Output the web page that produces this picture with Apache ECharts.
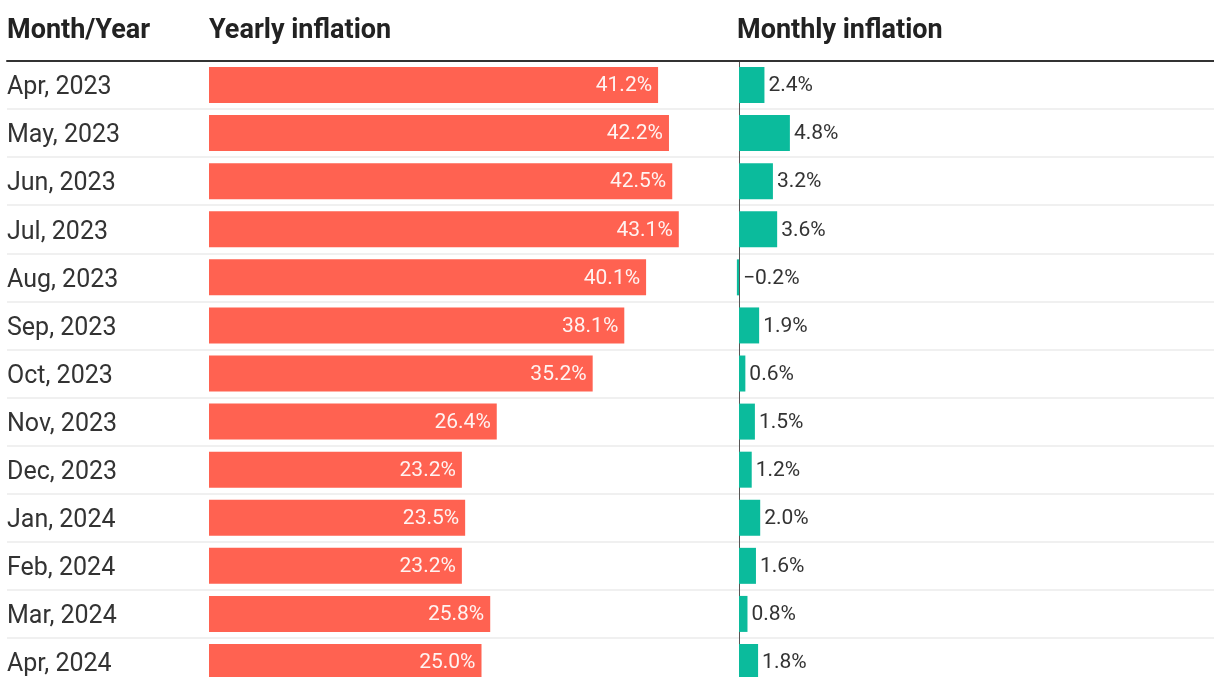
<!DOCTYPE html>
<html>
<head>
<meta charset="utf-8">
<script src="https://cdn.jsdelivr.net/npm/echarts@6/dist/echarts.min.js"></script>
<style>
  html, body { margin: 0; padding: 0; background: #fff; overflow: hidden; }
  /* taller than the window on purpose: the last row is cut off in the original */
  #chart { width: 1214px; height: 700px; }
</style>
</head>
<body>
<div id="chart"></div>
<script>
// data
var months = ['Apr, 2023','May, 2023','Jun, 2023','Jul, 2023','Aug, 2023','Sep, 2023','Oct, 2023',
              'Nov, 2023','Dec, 2023','Jan, 2024','Feb, 2024','Mar, 2024','Apr, 2024'];
var yearly = [41.2, 42.2, 42.5, 43.1, 40.1, 38.1, 35.2, 26.4, 23.2, 23.5, 23.2, 25.8, 25.0];
var monthly = [2.4, 4.8, 3.2, 3.6, -0.2, 1.9, 0.6, 1.5, 1.2, 2.0, 1.6, 0.8, 1.8];
var headers = ['Month/Year', 'Yearly inflation', 'Monthly inflation'];

var font = 'Roboto';
var rowTop = 61, rowH = 48.08;
var gridH = rowH * months.length;

function pct(p) {
    return p.value.toFixed(1).replace('-', '\u2212') + '%';
}

var myChart = echarts.init(document.getElementById('chart'));
var headerStyle = { fontFamily: font, fontSize: 27, fontWeight: 'bold', color: '#222' };
var option = {
    animation: false,
    backgroundColor: '#fff',
    title: [
        { text: headers[0], left: 7, top: 18, padding: 0, textStyle: headerStyle },
        { text: headers[1], left: 209, top: 18, padding: 0, textStyle: headerStyle },
        { text: headers[2], left: 737, top: 18, padding: 0, textStyle: headerStyle }
    ],
    grid: [
        // backdrop: row labels, separators, header rule
        { left: 7, right: 0, top: rowTop, height: gridH },
        // yearly bars
        { left: 209, width: 48 * 10.9, top: rowTop, height: gridH },
        // monthly bars
        { left: 739 - 2 * 10.6, width: 46 * 10.6, top: rowTop, height: gridH }
    ],
    xAxis: [
        {
            gridIndex: 0, type: 'value', position: 'top', min: 0, max: 1, z: 5,
            axisLine: { show: true, lineStyle: { color: '#333', width: 2 } },
            axisTick: { show: false }, axisLabel: { show: false }, splitLine: { show: false }
        },
        { gridIndex: 1, type: 'value', min: 0, max: 48, show: false },
        { gridIndex: 2, type: 'value', min: -2, max: 44, show: false }
    ],
    yAxis: [
        {
            gridIndex: 0, type: 'category', data: months, inverse: true,
            axisLine: { show: false }, axisTick: { show: false },
            axisLabel: {
                align: 'left', margin: 0, verticalAlign: 'top', lineHeight: 6,
                fontFamily: font, fontSize: 25, color: '#333'
            },
            splitLine: { show: true, lineStyle: { color: '#ebebeb', width: 1.5 } }
        },
        {
            gridIndex: 1, type: 'category', data: months, inverse: true,
            axisLine: { show: false }, axisTick: { show: false }, axisLabel: { show: false }
        },
        {
            gridIndex: 2, type: 'category', data: months, inverse: true,
            axisLine: { show: true, onZero: true, lineStyle: { color: '#555', width: 1 } },
            axisTick: { show: false }, axisLabel: { show: false }
        }
    ],
    series: [
        {
            name: 'Yearly inflation', type: 'bar', xAxisIndex: 1, yAxisIndex: 1,
            data: yearly, barWidth: 36,
            itemStyle: { color: '#ff6251' },
            label: {
                show: true, position: 'insideRight', distance: 6, offset: [0, 1], formatter: pct,
                fontFamily: font, fontSize: 21, color: 'rgba(255,255,255,0.92)'
            }
        },
        {
            name: 'Monthly inflation', type: 'bar', xAxisIndex: 2, yAxisIndex: 2,
            data: monthly, barWidth: 36,
            itemStyle: { color: '#0bbb9c' },
            label: {
                show: true, position: 'right', distance: 4, offset: [0, 1], formatter: pct,
                fontFamily: font, fontSize: 21, color: '#333'
            }
        }
    ]
};
myChart.setOption(option);
</script>
</body>
</html>
